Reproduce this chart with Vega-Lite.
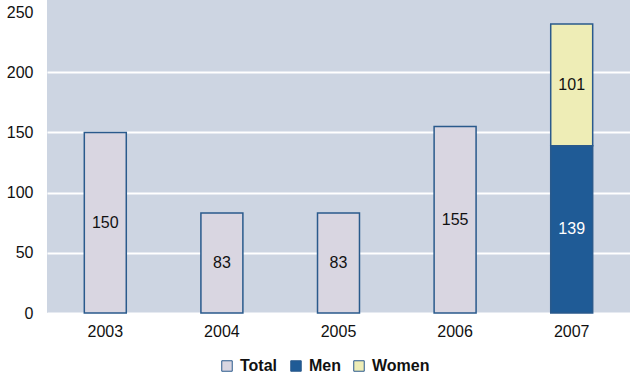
{
  "$schema": "https://vega.github.io/schema/vega-lite/v6.json",
  "width": 635,
  "height": 379,
  "autosize": {"type": "fit", "contains": "padding"},
  "padding": {"left": 6, "top": 0, "right": 5, "bottom": 40},
  "background": "white",
  "config": {
    "font": "Liberation Sans",
    "view": {"fill": "#cdd5e2", "stroke": null}
  },
  "data": {
    "values": [
      {"year": "2003", "category": "Total", "value": 150},
      {"year": "2004", "category": "Total", "value": 83},
      {"year": "2005", "category": "Total", "value": 83},
      {"year": "2006", "category": "Total", "value": 155},
      {"year": "2007", "category": "Men", "value": 139},
      {"year": "2007", "category": "Women", "value": 101}
    ]
  },
  "transform": [
    {"stack": "value", "groupby": ["year"], "sort": [{"field": "order"}], "as": ["v0", "v1"]},
    {"calculate": "(datum.v0 + datum.v1) / 2", "as": "mid"}
  ],
  "encoding": {
    "x": {
      "field": "year", "type": "nominal",
      "scale": {"paddingInner": 0.64, "paddingOuter": 0.32},
      "axis": {"title": null, "labelAngle": 0, "ticks": false, "domain": false, "labelFontSize": 16, "labelColor": "#111", "labelPadding": 10, "grid": false}
    }
  },
  "layer": [
    {
      "mark": {"type": "bar", "stroke": "#2a5a8c", "strokeWidth": 1.5},
      "encoding": {
        "y": {
          "field": "v0", "type": "quantitative",
          "scale": {"domain": [0, 250]},
          "axis": {"title": null, "values": [0, 50, 100, 150, 200, 250], "ticks": false, "domain": false, "labelFontSize": 16, "labelColor": "#111", "labelPadding": 14, "gridColor": "white", "gridWidth": 2, "gridOpacity": {"condition": {"test": "datum.value === 250", "value": 0}, "value": 1}}
        },
        "y2": {"field": "v1"},
        "color": {
          "field": "category", "type": "nominal",
          "scale": {"domain": ["Total", "Men", "Women"], "range": ["#d9d6e1", "#1f5b96", "#eeedb6"]},
          "legend": {
            "title": null, "orient": "none", "direction": "horizontal", "legendX": 172, "legendY": 358,
            "symbolType": "square", "symbolSize": 110, "symbolStrokeColor": "#2a5a8c", "symbolStrokeWidth": 1, "symbolOpacity": 1,
            "labelFontSize": 16, "labelFontWeight": "bold", "labelColor": "#111", "columnPadding": 10, "labelOffset": 5
          }
        }
      }
    },
    {
      "mark": {"type": "text", "fontSize": 16, "baseline": "middle"},
      "encoding": {
        "y": {"field": "mid", "type": "quantitative"},
        "text": {"field": "value", "type": "quantitative"},
        "color": {
          "condition": {"test": "datum.category === 'Men'", "value": "white"},
          "value": "#111"
        }
      }
    }
  ]
}
